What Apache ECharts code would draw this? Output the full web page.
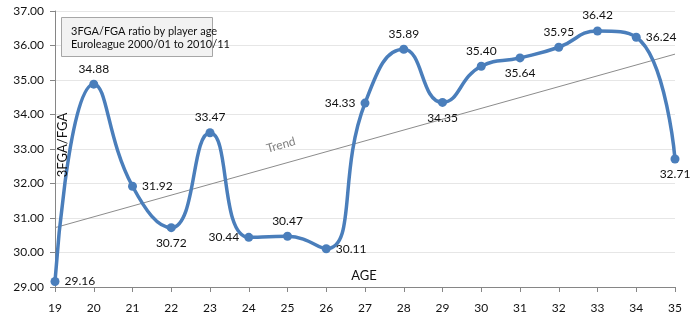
<!DOCTYPE html>
<html>
<head>
<meta charset="utf-8">
<script src="https://cdn.jsdelivr.net/npm/echarts@6/dist/echarts.min.js"></script>
<style>
html,body{margin:0;padding:0;background:#fff;}
#chart{width:694px;height:329px;}
</style>
</head>
<body>
<div id="chart"></div>
<script>
const ages = ['19','20','21','22','23','24','25','26','27','28','29','30','31','32','33','34','35'];
const ratios = [29.16,34.88,31.92,30.72,33.47,30.44,30.47,30.11,34.33,35.89,34.35,35.40,35.64,35.95,36.42,36.24,32.71];
const labelPositions = ['right','top','right','bottom','top','left','top','right','left','top','bottom','top','bottom','top','top','right','bottom'];
const trendEnds = [30.72, 35.75];
const yTicks = [29,30,31,32,33,34,35,36,37];
const titleLines = ['3FGA/FGA ratio by player age', 'Euroleague 2000/01 to 2010/11'];

const FONT = 'Lato, "Liberation Sans", sans-serif';
const chart = echarts.init(document.getElementById('chart'));

const trendData = ages.map((a, i) => i === 0 ? trendEnds[0] : (i === ages.length - 1 ? trendEnds[1] : null));

chart.setOption({
  animation: false,
  backgroundColor: '#ffffff',
  grid: {left: 55, right: 19, top: 11, bottom: 42},
  xAxis: {
    type: 'category',
    data: ages,
    boundaryGap: false,
    axisLine: {lineStyle: {color: '#868686', width: 1}},
    axisTick: {show: true, alignWithLabel: true, length: 5, lineStyle: {color: '#868686'}},
    axisLabel: {color: '#111', fontSize: 12, fontFamily: FONT, margin: 15}
  },
  yAxis: {
    type: 'value',
    min: yTicks[0],
    max: yTicks[yTicks.length - 1],
    interval: 1,
    axisLine: {show: true, lineStyle: {color: '#868686', width: 1}},
    axisTick: {show: true, length: 5, lineStyle: {color: '#868686'}},
    splitLine: {lineStyle: {color: '#e6e6e6', width: 1}},
    axisLabel: {color: '#111', fontSize: 12, fontFamily: FONT, margin: 11, formatter: v => v.toFixed(2)}
  },
  series: [
    {
      type: 'line',
      data: trendData,
      connectNulls: true,
      symbol: 'none',
      lineStyle: {color: '#8c8c8c', width: 1},
      z: 1,
      silent: true
    },
    {
      type: 'line',
      data: ratios.map((v, i) => ({value: v, label: {position: labelPositions[i]}})),
      smooth: 0.5,
      symbol: 'circle',
      symbolSize: 9,
      itemStyle: {color: '#4a7ebb'},
      lineStyle: {color: '#4a7ebb', width: 3.5},
      label: {show: true, color: '#111', fontSize: 12, fontFamily: FONT, distance: 5, formatter: p => p.value.toFixed(2)},
      z: 3
    }
  ],
  graphic: [
    {
      type: 'rect',
      shape: {x: 61.5, y: 17.5, width: 151, height: 39},
      style: {fill: '#f2f2f2', stroke: '#a6a6a6', lineWidth: 1},
      z: 10
    },
    {
      type: 'text',
      x: 71, y: 24.5,
      style: {text: titleLines.join('\n'), fill: '#111', fontSize: 11, fontFamily: FONT, lineHeight: 13.5},
      z: 11
    },
    {
      type: 'text',
      x: 63, y: 145,
      rotation: Math.PI / 2,
      style: {text: '3FGA/FGA', fill: '#111', fontSize: 13, fontFamily: FONT, align: 'center', verticalAlign: 'middle'},
      z: 11
    },
    {
      type: 'text',
      x: 364, y: 276,
      style: {text: 'AGE', fill: '#111', fontSize: 13, fontFamily: FONT, align: 'center', verticalAlign: 'middle'},
      z: 11
    },
    {
      type: 'text',
      x: 281, y: 145,
      rotation: 0.273,
      style: {text: 'Trend', fill: '#808080', fontSize: 12, fontFamily: FONT, align: 'center', verticalAlign: 'middle'},
      z: 11
    }
  ]
});
</script>
</body>
</html>
